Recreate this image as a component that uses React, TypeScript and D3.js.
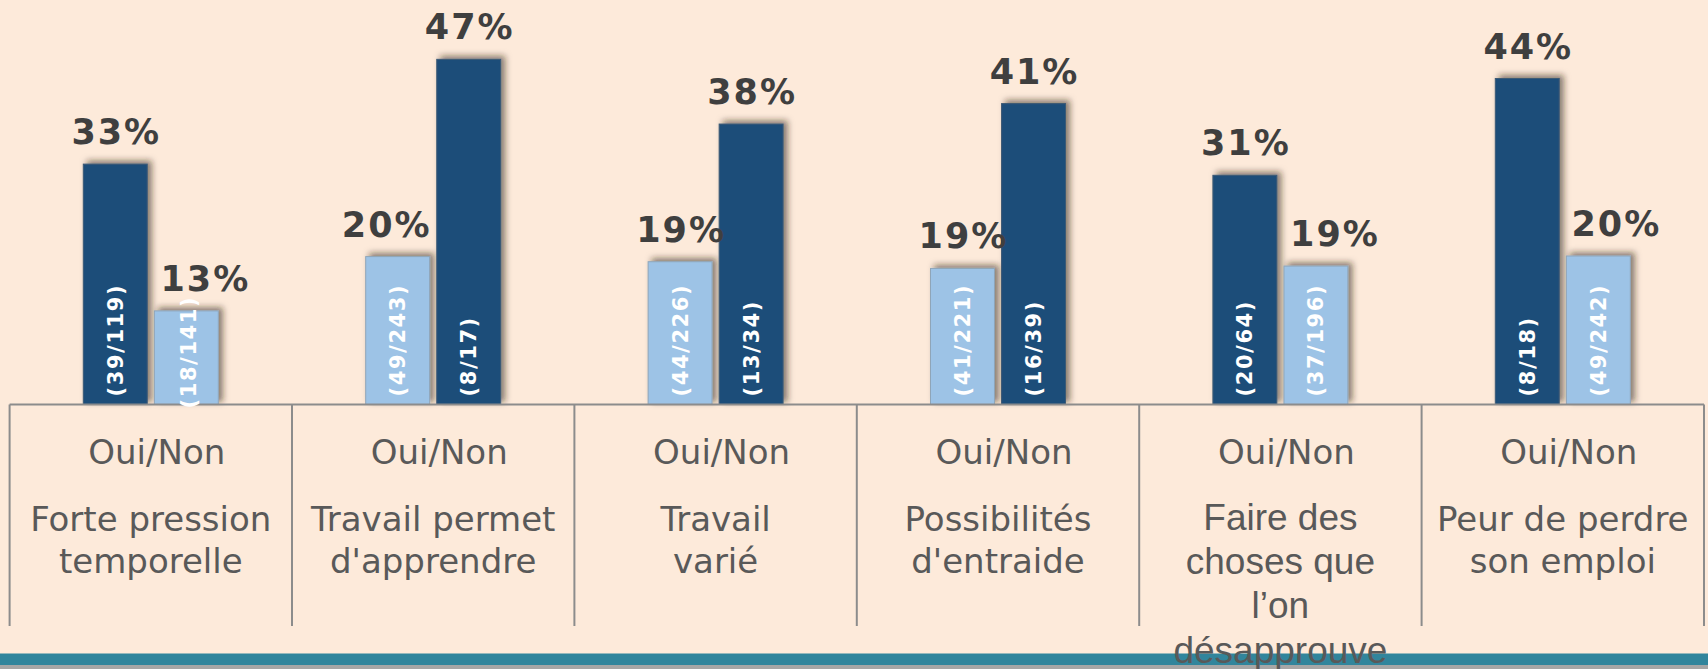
import React, { useEffect } from "react";
import * as d3 from "d3";

// ---------- DATA ----------
const categories = [
  "Forte pression temporelle",
  "Travail permet d'apprendre",
  "Travail varié",
  "Possibilités d'entraide",
  "Faire des choses que l’on désapprouve",
  "Peur de perdre son emploi",
];
const categoryLines = [
  ["Forte pression", "temporelle"],
  ["Travail permet", "d'apprendre"],
  ["Travail", "varié"],
  ["Possibilités", "d'entraide"],
  ["Faire des", "choses que", "l’on", "désapprouve"],
  ["Peur de perdre", "son emploi"],
];
const groupTitle = "Oui/Non";
const seriesKeys = ["Oui", "Non"];
const ouiCases = [39, 49, 44, 41, 20, 8];
const ouiTotals = [119, 243, 226, 221, 64, 18];
const nonCases = [18, 8, 13, 16, 37, 49];
const nonTotals = [141, 17, 34, 39, 196, 242];

// ---------- LAYOUT / STYLE ----------
const W = 1708;
const H = 669;
const BG = "#FDEADA";
const DARK = "#1F4E79";
const LIGHT = "#9DC3E6";
const TEXT = "#595959";
const LABEL = "#3F3F3F";
const AXIS = "#8C8C8C";
const BAND = "#31859C";
const baseY = 404.5;
const pxPerPct = 7.335;
// label nudges (layout only) per group [oui, non]
const pctNudge = [
  [0, 18],
  [-12, 0],
  [0, 0],
  [0, 0],
  [0, 18],
  [0, 17],
];
const countNudge = [
  [[0, 0], [2, 12]],
  [[0, 0], [0, 0]],
  [[0, 0], [0, 0]],
  [[0, 0], [0, 0]],
  [[0, 0], [0, 0]],
  [[0, 0], [0, 0]],
];

type Bar = {
  gi: number;
  key: string;
  n: number;
  d: number;
  pct: number;
  dark: boolean;
};

export default function App() {
  useEffect(() => {
    document.body.style.margin = "0";
    document.body.style.background = BG;
  }, []);

  const x = d3
    .scaleBand<string>()
    .domain(categories)
    .range([9.6, 1704])
    .padding(0);
  const xInner = d3
    .scaleBand<string>()
    .domain(seriesKeys)
    .range([-67.5, 67.5])
    .paddingInner(0.1);
  const y = d3
    .scaleLinear()
    .domain([0, 50])
    .range([baseY, baseY - 50 * pxPerPct]);

  const bars: Bar[] = [];
  categories.forEach((c, gi) => {
    const po = (ouiCases[gi] / ouiTotals[gi]) * 100;
    const pn = (nonCases[gi] / nonTotals[gi]) * 100;
    bars.push({ gi, key: "Oui", n: ouiCases[gi], d: ouiTotals[gi], pct: po, dark: po > pn });
    bars.push({ gi, key: "Non", n: nonCases[gi], d: nonTotals[gi], pct: pn, dark: pn > po });
  });

  const gc = (gi: number) => (x(categories[gi]) as number) + x.bandwidth() / 2;
  const bx = (b: Bar) => gc(b.gi) + (xInner(b.key) as number);
  const bw = xInner.bandwidth();

  const dividers = d3.range(categories.length + 1).map((i) =>
    i < categories.length ? (x(categories[i]) as number) : x.range()[1]
  );

  return (
    <svg
      width={W}
      height={H}
      style={{ position: "absolute", left: 0, top: 0, display: "block" }}
    >
      <defs>
        <filter id="shadow" x="-30%" y="-30%" width="160%" height="160%">
          <feDropShadow dx="4" dy="-3" stdDeviation="3" floodColor="#2a1a10" floodOpacity="0.55" />
        </filter>
      </defs>
      <rect x={0} y={0} width={W} height={H} fill={BG} />

      {/* bottom band */}
      <rect x={0} y={653.5} width={W} height={11.5} fill={BAND} />
      <rect x={0} y={665} width={W} height={4} fill="#A6A6A6" />

      {/* bars */}
      {bars.map((b, i) => (
        <rect
          key={"b" + i}
          x={bx(b)}
          y={y(b.pct)}
          width={bw}
          height={baseY - y(b.pct)}
          fill={b.dark ? DARK : LIGHT}
          stroke={b.dark ? "#3d5a75" : "#8FA5B8"}
          strokeWidth={1}
          filter="url(#shadow)"
        />
      ))}

      {/* axis & dividers */}
      <line x1={dividers[0]} x2={dividers[dividers.length - 1]} y1={baseY} y2={baseY} stroke={AXIS} strokeWidth={2} />
      {dividers.map((dx, i) => (
        <line key={"d" + i} x1={dx} x2={dx} y1={baseY} y2={626} stroke={AXIS} strokeWidth={2} />
      ))}

      {/* percent labels */}
      {bars.map((b, i) => (
        <text
          key={"p" + i}
          x={bx(b) + bw / 2 + pctNudge[b.gi][b.key === "Oui" ? 0 : 1] + 1}
          y={y(b.pct) - 20}
          textAnchor="middle"
          fontFamily="'DejaVu Sans', Verdana, sans-serif"
          fontWeight="bold"
          fontSize={35}
          letterSpacing={2}
          fill={LABEL}
        >
          {Math.round(b.pct) + "%"}
        </text>
      ))}

      {/* count labels (vertical) */}
      {bars.map((b, i) => {
        const nd = countNudge[b.gi][b.key === "Oui" ? 0 : 1];
        const cx = bx(b) + bw / 2 + 7.5 + nd[0];
        const cy = baseY - 8 + nd[1];
        return (
          <text
            key={"c" + i}
            transform={`translate(${cx},${cy}) rotate(-90)`}
            textAnchor="start"
            fontFamily="'DejaVu Sans', Verdana, sans-serif"
            fontWeight="bold"
            fontSize={21}
            letterSpacing={1.6}
            fill="#FFFFFF"
          >
            {`(${b.n}/${b.d})`}
          </text>
        );
      })}

      {/* category labels */}
      {categories.map((c, gi) => {
        const alt = categoryLines[gi].length > 2;
        return (
          <g key={"g" + gi}>
            <text
              x={gc(gi) + 6}
              y={463.5}
              textAnchor="middle"
              fontFamily="'DejaVu Sans', Verdana, sans-serif"
              fontSize={34}
              fill={TEXT}
            >
              {groupTitle}
            </text>
            {categoryLines[gi].map((ln, li) => (
              <text
                key={li}
                x={gc(gi)}
                y={(alt ? 529.5 : 530.5) + li * (alt ? 44.4 : 42.5)}
                textAnchor="middle"
                fontFamily={alt ? "'Liberation Sans', Arial, sans-serif" : "'DejaVu Sans', Verdana, sans-serif"}
                fontSize={alt ? 37 : 34}
                fill={TEXT}
              >
                {ln}
              </text>
            ))}
          </g>
        );
      })}
    </svg>
  );
}
